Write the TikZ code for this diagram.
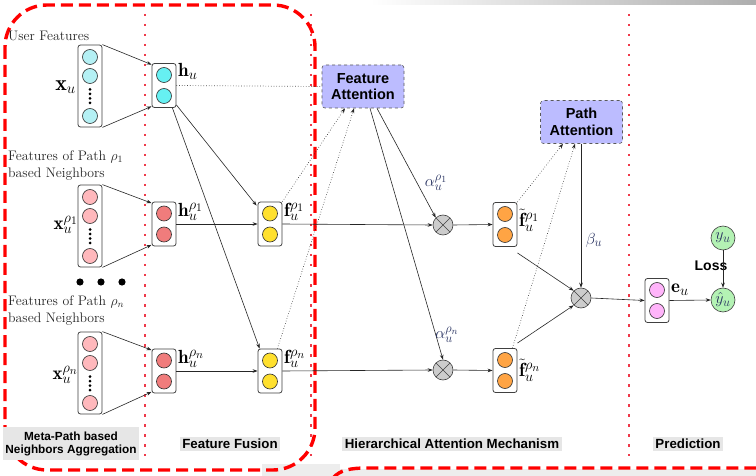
\RequirePackage{fix-cm}
\documentclass[tikz,border=0pt]{standalone}
\usepackage{fontspec}
\newfontfamily\lsans{Liberation Sans}
\usetikzlibrary{arrows.meta,shapes.geometric}
\DeclareMathSizes{22}{22}{15}{11}
\DeclareMathSizes{19}{19}{14.5}{11.5}
\DeclareMathSizes{16}{16}{12.5}{9.5}

\definecolor{incyan}{HTML}{B4F0F4}
\definecolor{hcyan}{HTML}{66F0F2}
\definecolor{inpink}{HTML}{FFB8BC}
\definecolor{hred}{HTML}{F07C7C}
\definecolor{fyellow}{HTML}{FFE02E}
\definecolor{forange}{HTML}{FFA444}
\definecolor{epink}{HTML}{FFB4FA}
\definecolor{ygreen}{HTML}{B4F2B4}
\definecolor{attn}{HTML}{BCBCFF}
\definecolor{sepred}{HTML}{EE3A4A}
\definecolor{frame}{HTML}{FF0000}
\definecolor{mathblue}{HTML}{2A3462}
\definecolor{secgray}{HTML}{E6E6E6}

% input column: name, x, top, fill
\newcommand{\incol}[4]{%
  \node[layerbox, minimum height=82pt] (#1) at (#2,#3+41) {};
  \node[unit, fill=#4] (#1a) at (#2,#3+12) {};
  \node[unit, fill=#4] (#1b) at (#2,#3+31) {};
  \node[unit, fill=#4] (#1c) at (#2,#3+71) {};
  \foreach \d in {13.5,18,22.5,27} \fill (#2,#3+31+\d) circle (1.5pt);
}
% two-unit column: name, x, centre y, fill
\newcommand{\twocol}[4]{%
  \node[layerbox, minimum height=44pt] (#1) at (#2,#3) {};
  \node[unit, fill=#4] (#1a) at (#2,#3-10.5) {};
  \node[unit, fill=#4] (#1b) at (#2,#3+10.5) {};
}

\begin{document}
\begin{tikzpicture}[x=1pt,y=-1pt,
  layerbox/.style={draw=black!75, line width=0.8pt, rounded corners=2.5pt,
    minimum width=24pt, inner sep=0pt, fill=white},
  unit/.style={circle, draw=black!80, line width=0.6pt, minimum size=15pt, inner sep=0pt},
  conn/.style={-{Stealth[length=5pt,width=3.6pt]}, line width=0.6pt, draw=black!85},
  dotconn/.style={conn, dotted},
  otimes/.style={circle, draw=black!75, line width=0.6pt, fill=gray!40, minimum size=20pt,
    inner sep=0pt, path picture={\draw[black!75, line width=0.6pt]
      (path picture bounding box.north west) -- (path picture bounding box.south east)
      (path picture bounding box.north east) -- (path picture bounding box.south west);}},
  attbox/.style={draw=black!65, dashed, line width=0.6pt, fill=attn, rounded corners=3pt,
    minimum width=82pt, minimum height=43pt, align=center, inner sep=0pt,
    font=\lsans\bfseries\fontsize{14.5}{16.5}\selectfont},
  section/.style={fill=secgray, inner sep=2.5pt, align=center,
    font=\lsans\bfseries\fontsize{13.3}{14}\selectfont},
  sepline/.style={draw=sepred, line width=1.8pt, dash pattern=on 2.5pt off 7.5pt},
  caption/.style={anchor=west, inner sep=0pt, text=black!85, font=\fontsize{13.8}{15}\selectfont},
  mlabel/.style={inner sep=0pt, font=\fontsize{19}{21}\selectfont},
  slabel/.style={inner sep=0pt, text=mathblue, font=\fontsize{16}{18}\selectfont},
]
\useasboundingbox (0,0) rectangle (756,476);
\fill[white] (0,0) rectangle (756,476);

% screen edges
\shade[left color=white, right color=black!32] (370,0) rectangle (756,4.5);
\fill[black!7] (262,464) rectangle (340,476);
\fill[black!7] (340,469) rectangle (756,476);

% stage separators
\draw[sepline] (145,14) -- (145,456);
\draw[sepline] (311,14) -- (311,456);
\draw[sepline] (629,14) -- (629,456);

% highlighted region
\draw[frame, line width=3.4pt, dash pattern=on 12pt off 6pt, rounded corners=42pt]
  (5,5) rectangle (315,470);
\draw[frame, line width=3.4pt, dash pattern=on 12pt off 6pt]
  (333,478) .. controls (340,470) and (350,468) .. (368,468) -- (760,468);

% captions
\node[caption] (capu) at (8,36) {User Features};
\node[caption] (cap1a) at (8,157) {Features of Path $\rho_1$};
\node[caption] (cap1b) at (8,174) {based Neighbors};
\node[caption] (capna) at (8,302) {Features of Path $\rho_n$};
\node[caption] (capnb) at (8,319) {based Neighbors};

% input layers
\incol{xu}{90}{45}{incyan}
\incol{xa}{90}{185}{inpink}
\incol{xn}{90}{332}{inpink}
\node[mlabel, anchor=east, font=\fontsize{22}{24}\selectfont] (lxu) at (76,87) {$\mathbf{x}_u$};
\node[mlabel, anchor=east] (lxa) at (78,225) {$\mathbf{x}_u^{\rho_1}$};
\node[mlabel, anchor=east] (lxn) at (78,375) {$\mathbf{x}_u^{\rho_n}$};

% ellipsis between path groups
\foreach \px/\nm in {80/da,101/db,122/dc}
  \fill (\px,282) circle (3.6pt);

% embedded layers
\twocol{hu}{164}{85.5}{hcyan}
\twocol{ha}{164}{224}{hred}
\twocol{hn}{164}{371}{hred}
\node[mlabel, anchor=west] (lhu) at (178,71) {$\mathbf{h}_u$};
\node[mlabel, anchor=west] (lha) at (178,212) {$\mathbf{h}_u^{\rho_1}$};
\node[mlabel, anchor=west] (lhn) at (178,359) {$\mathbf{h}_u^{\rho_n}$};

% fused features
\twocol{fa}{270}{224}{fyellow}
\twocol{fn}{270}{371}{fyellow}
\node[mlabel, anchor=west] (lfa) at (284,212) {$\mathbf{f}_u^{\rho_1}$};
\node[mlabel, anchor=west] (lfn) at (284,359) {$\mathbf{f}_u^{\rho_n}$};

% attention modules
\node[attbox] (fatt) at (363,86.5) {Feature\\Attention};
\node[attbox] (patt) at (581.5,122) {Path\\Attention};

% weighting
\node[otimes] (ma) at (443,225) {};
\node[otimes] (mn) at (443,370) {};
\node[otimes] (mp) at (581,298) {};

% attended path features
\twocol{ta}{505}{224.5}{forange}
\twocol{tn}{505}{370.5}{forange}
\node[mlabel, anchor=west] (lta) at (519,220) {$\tilde{\mathbf{f}}_u^{\rho_1}$};
\node[mlabel, anchor=west] (ltn) at (519,370) {$\tilde{\mathbf{f}}_u^{\rho_n}$};

% prediction
\twocol{eu}{657}{300.5}{epink}
\node[mlabel, anchor=west] (leu) at (671,290) {$\mathbf{e}_u$};
\node[circle, draw=black!75, line width=0.6pt, fill=ygreen, minimum size=24pt, inner sep=0pt,
  font=\fontsize{16}{18}\selectfont, text=mathblue] (yu) at (723,238) {$y_u$};
\node[circle, draw=black!75, line width=0.6pt, fill=ygreen, minimum size=24pt, inner sep=0pt,
  font=\fontsize{16}{18}\selectfont, text=mathblue] (yh) at (723,300) {$\hat{y}_u$};
\node[inner sep=0pt, font=\lsans\bfseries\fontsize{14}{15}\selectfont] (loss) at (711,266) {Loss};

% input -> embedding
\draw[conn] (xu.north east) -- ([yshift=-1.5pt]hu.north west);
\draw[conn] (xu.south east) -- ([yshift=1.5pt]hu.south west);
\draw[conn] (xa.north east) -- ([yshift=-1.5pt]ha.north west);
\draw[conn] (xa.south east) -- ([yshift=1.5pt]ha.south west);
\draw[conn] (xn.north east) -- ([yshift=-1.5pt]hn.north west);
\draw[conn] (xn.south east) -- ([yshift=1.5pt]hn.south west);

% feature fusion
\draw[conn] ([yshift=3pt]hu.south east) -- ([xshift=-1pt,yshift=-4pt]fa.north west);
\draw[conn] ([xshift=-4pt]hu.south east) -- ([xshift=2pt]fn.north west);
\draw[conn] (ha.east) -- (fa.west);
\draw[conn] (hn.east) -- (fn.west);
\draw[dotted, line width=0.7pt, black!70] (hu.east) -- (fatt.west);

% feature attention
\draw[dotconn] (fa.north east) -- ([xshift=-18pt]fatt.south);
\draw[dotconn] ([xshift=-5pt]fn.north east) -- ([xshift=-9pt]fatt.south);
\draw[conn] ([xshift=14pt]fatt.south) -- (ma.north west);
\draw[conn] ([xshift=7pt]fatt.south) -- (mn.north);
\node[slabel] (la) at (436,183) {$\alpha_u^{\rho_1}$};
\node[slabel] (ln) at (447,335) {$\alpha_u^{\rho_n}$};
\draw[conn] (fa.east) -- (ma.west);
\draw[conn] (fn.east) -- (mn.west);
\draw[conn] (ma.east) -- (ta.west);
\draw[conn] (mn.east) -- (tn.west);

% path attention
\draw[dotconn] (ta.north east) -- ([xshift=-18.5pt]patt.south);
\draw[dotconn] ([xshift=-5pt]tn.north east) -- ([xshift=-6.5pt]patt.south);
\draw[conn] ([yshift=-6pt]ta.south east) -- (mp.north west);
\draw[conn] ([yshift=5pt]tn.north east) -- (mp.south west);
\draw[conn] (patt.south -| mp.north) -- (mp.north);
\node[slabel] (lb) at (594,240) {$\beta_u$};
\draw[conn] (mp.east) -- (eu.west);
\draw[conn] (eu.east) -- (yh.west);
\draw[conn] (yu.south) -- (yh.north);

% stage titles
\node[section, font=\lsans\bfseries\fontsize{11.8}{13}\selectfont, minimum width=132pt, minimum height=33pt]
  (s1) at (71,443.5) {Meta-Path based\\Neighbors Aggregation};
\node[section] (s2) at (230,444) {Feature Fusion};
\node[section] (s3) at (452,444) {Hierarchical Attention Mechanism};
\node[section] (s4) at (688,444) {Prediction};
\end{tikzpicture}
\end{document}
